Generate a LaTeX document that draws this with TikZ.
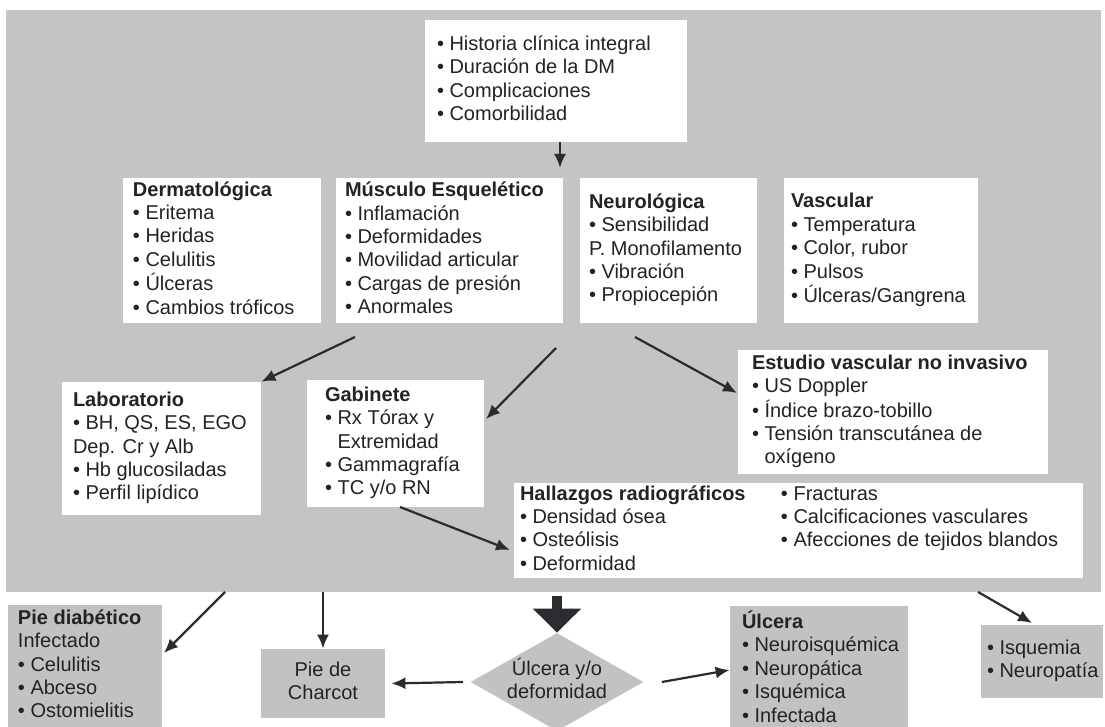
\documentclass[tikz,border=0pt]{standalone}
\usepackage{fontspec}
\setmainfont{Liberation Sans}
\usetikzlibrary{arrows.meta,shapes.geometric}
\definecolor{bggray}{RGB}{196,196,196}
\definecolor{boxgray}{RGB}{194,194,194}
\definecolor{ink}{RGB}{35,35,38}
\definecolor{arr}{RGB}{42,44,48}
\newcommand{\bl}{•~}
\newcommand{\bxt}[2]{\makebox[#1][l]{\begin{tabular}{@{}l@{}}#2\end{tabular}}}
\begin{document}
\begin{tikzpicture}[x=0.5pt,y=-0.5pt,
  every node/.style={font=\fontsize{10}{11.7}\selectfont, text=ink},
  wbox/.style={fill=white, draw=none, inner ysep=0pt},
  gbox/.style={fill=boxgray, draw=none, inner ysep=0pt},
  con/.style={draw=arr, line width=1.1pt, -{Latex[length=7pt,width=6pt]}},
  bigcon/.style={draw=arr, line width=5pt, -{Triangle[length=12pt,width=23.5pt]}}]
\useasboundingbox (0,0) rectangle (1105,727);
\fill[white] (0,0) rectangle (1105,727);
\fill[bggray] (6,10) rectangle (1101,592);

% top box
\node[wbox, minimum width=131pt, minimum height=61pt, inner xsep=6pt] (top) at (556,81)
  {\bxt{119pt}{\bl Historia clínica integral\\\bl Duración de la DM\\\bl Complicaciones\\\bl Comorbilidad}};

% row of examination boxes
\node[wbox, minimum width=99pt, minimum height=72.5pt, inner xsep=5pt] (derm) at (222,250.5)
  {\bxt{89pt}{\textbf{Dermatológica}\\\bl Eritema\\\bl Heridas\\\bl Celulitis\\\bl Úlceras\\\bl Cambios tróficos}};
\node[wbox, minimum width=113.5pt, minimum height=72.5pt, inner xsep=4.5pt] (musc) at (449.5,250.5)
  {\bxt{104.5pt}{\textbf{Músculo Esquelético}\\\bl Inflamación\\\bl Deformidades\\\bl Movilidad articular\\\bl Cargas de presión\\\bl Anormales}};
\node[wbox, minimum width=88.5pt, minimum height=72.5pt, inner xsep=4.5pt] (neuro) at (668.5,250.5)
  {\bxt{79.5pt}{\textbf{Neurológica}\\\bl Sensibilidad\\P. Monofilamento\\\bl Vibración\\\bl Propiocepión}};
\node[wbox, minimum width=97pt, minimum height=72.5pt, inner xsep=3.5pt] (vasc) at (881,250.5)
  {\bxt{90pt}{\textbf{Vascular}\\\bl Temperatura\\\bl Color, rubor\\\bl Pulsos\\\bl Úlceras/Gangrena}};

% studies
\node[wbox, minimum width=99.5pt, minimum height=66.5pt, inner xsep=5.5pt] (lab) at (161.5,448.5)
  {\bxt{88.5pt}{\textbf{Laboratorio}\\\bl BH, QS, ES, EGO\\Dep. Cr y Alb\\\bl Hb glucosiladas\\\bl Perfil lipídico}};
\node[wbox, minimum width=88.5pt, minimum height=63.5pt, inner xsep=9pt] (gab) at (395.5,443.5)
  {\bxt{70.5pt}{\textbf{Gabinete}\\\bl Rx Tórax y\\\phantom{•~}Extremidad\\\bl Gammagrafía\\\bl TC y/o RN}};
\node[wbox, minimum width=155pt, minimum height=62pt, inner xsep=7pt] (est) at (893,412)
  {\bxt{141pt}{\textbf{Estudio vascular no invasivo}\\\bl US Doppler\\\bl Índice brazo-tobillo\\\bl Tensión transcutánea de\\\phantom{•~}oxígeno}};
\node[wbox, minimum width=284.5pt, minimum height=47.5pt, inner xsep=3pt] (hall) at (798.5,530.5)
  {\makebox[278.5pt][l]{\begin{tabular}{@{}p{130.5pt}@{}l@{}}
   \textbf{Hallazgos radiográficos} & \bl Fracturas\\
   \bl Densidad ósea & \bl Calcificaciones vasculares\\
   \bl Osteólisis & \bl Afecciones de tejidos blandos\\
   \bl Deformidad & \\
   \end{tabular}}};

% outcome boxes
\node[gbox, minimum width=77pt, minimum height=61.5pt, inner xsep=5pt] (pied) at (85,666.5)
  {\bxt{67pt}{\textbf{Pie diabético}\\Infectado\\\bl Celulitis\\\bl Abceso\\\bl Ostomielitis}};
\node[gbox, minimum width=62pt, minimum height=34.5pt, inner xsep=0pt] (charcot) at (323,683.5)
  {\begin{tabular}{@{}c@{}}Pie de\\Charcot\end{tabular}};
\node[diamond, fill=boxgray, minimum width=86.5pt, minimum height=49pt, inner sep=0pt] (dia) at (557,682) {};
\node[inner sep=0pt] (diat) at (dia.center) {\begin{tabular}{@{}c@{}}Úlcera y/o\\deformidad\end{tabular}};
\node[gbox, minimum width=89pt, minimum height=64pt, inner xsep=6pt] (ulc) at (819,670)
  {\bxt{77pt}{\textbf{Úlcera}\\\bl Neuroisquémica\\\bl Neuropática\\\bl Isquémica\\\bl Infectada}};
\node[gbox, minimum width=61pt, minimum height=36.5pt, inner xsep=3pt] (isq) at (1042,661.5)
  {\bxt{55pt}{\bl Isquemia\\\bl Neuropatía}};

% free connector ends
\coordinate (t1) at (560,168);
\coordinate (m1) at (355,337);
\coordinate (m2) at (556,348);
\coordinate (g1) at (486,419);
\coordinate (m3) at (635,337);
\coordinate (e1) at (737,393);
\coordinate (g2) at (400,507);
\coordinate (h1) at (510,550);
\coordinate (b1) at (225,592);
\coordinate (p1) at (164,653);
\coordinate (b2) at (323,592);
\coordinate (b3) at (557,596);
\coordinate (b4) at (978,592);
\coordinate (q1) at (1032,623);

% connectors
\draw[con] ([xshift=2pt]top.south) -- (t1);
\draw[con] (m1) -- (lab.north east);
\draw[con] (m2) -- (g1);
\draw[con] (m3) -- (e1);
\draw[con] (g2) -- (h1);
\draw[con] (b1) -- (p1);
\draw[con] (b2) -- (charcot.north);
\draw[bigcon] (b3) -- (dia.north);
\draw[con] ([xshift=-3.5pt]dia.west) -- ([xshift=3pt]charcot.east);
\draw[con] ([xshift=9pt]dia.east) -- (ulc.west);
\draw[con] (b4) -- (q1);
\end{tikzpicture}
\end{document}
